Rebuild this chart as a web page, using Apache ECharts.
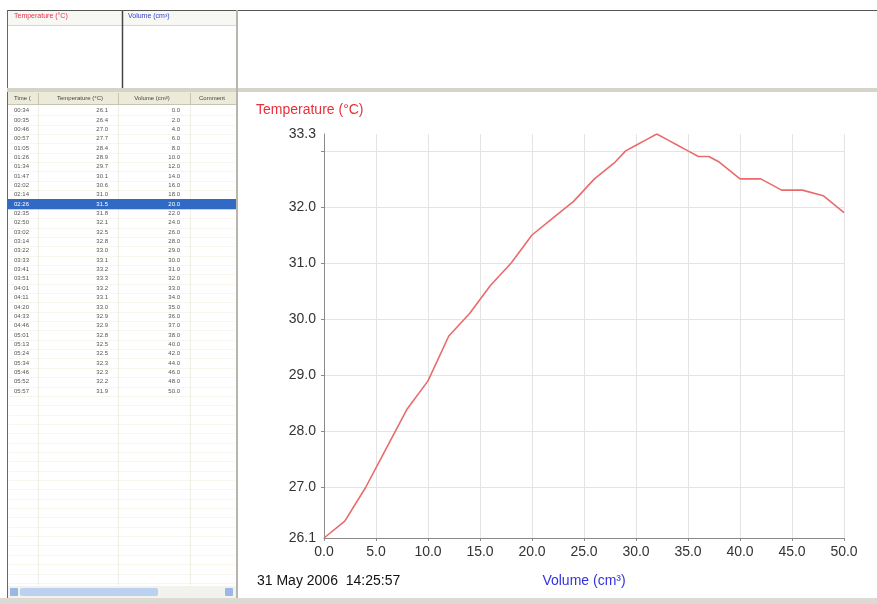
<!DOCTYPE html>
<html>
<head>
<meta charset="utf-8">
<script src="https://cdn.jsdelivr.net/npm/echarts@6/dist/echarts.min.js"></script>
<style>
html,body{margin:0;padding:0;background:#fff;}
#main{width:877px;height:604px;}
</style>
</head>
<body>
<div id="main"></div>
<script>
// ---- data ----
const times = ["00:34","00:35","00:46","00:57","01:05","01:26","01:34","01:47","02:02","02:14","02:26","02:35","02:50","03:02","03:14","03:22","03:33","03:41","03:51","04:01","04:11","04:20","04:33","04:46","05:01","05:13","05:24","05:34","05:46","05:52","05:57"];
const volumes = [0,2,4,6,8,10,12,14,16,18,20,22,24,26,28,29,30,31,32,33,34,35,36,37,38,40,42,44,46,48,50];
const temps = [26.1,26.4,27.0,27.7,28.4,28.9,29.7,30.1,30.6,31.0,31.5,31.8,32.1,32.5,32.8,33.0,33.1,33.2,33.3,33.2,33.1,33.0,32.9,32.9,32.8,32.5,32.5,32.3,32.3,32.2,31.9];
const yLabelValues = [26.1,27,28,29,30,31,32,33.3];
const yGridValues = [27,28,29,30,31,32,33];
const tableHeaders = ["Time (","Temperature (°C)","Volume (cm³)","Comment"];
const highlightRow = 10;

const chart = echarts.init(document.getElementById('main'), null, {renderer:'canvas'});

const FONT = 'Liberation Sans, Arial, sans-serif';
const g = [];
// top frame
g.push({type:'line', shape:{x1:7,y1:10.5,x2:877,y2:10.5}, style:{stroke:'#555',lineWidth:1}});
g.push({type:'line', shape:{x1:7.5,y1:10,x2:7.5,y2:600}, style:{stroke:'#666',lineWidth:1}});
// top-left boxes
g.push({type:'rect', shape:{x:8,y:11,width:229,height:14}, style:{fill:'#f7f7f4'}});
g.push({type:'line', shape:{x1:8,y1:25.5,x2:237,y2:25.5}, style:{stroke:'#d8d8d0',lineWidth:1}});
g.push({type:'line', shape:{x1:122.5,y1:11,x2:122.5,y2:88}, style:{stroke:'#444',lineWidth:1.5}});
g.push({type:'text', left:14, top:13, style:{text:'Temperature (°C)', fill:'#e8304a', font:'7px '+FONT}});
g.push({type:'text', left:128, top:13, style:{text:'Volume (cm³)', fill:'#3344cc', font:'7px '+FONT}});
// gray separator band
g.push({type:'rect', shape:{x:7,y:88,width:870,height:4}, style:{fill:'#d6d3cb'}});
// vertical separator between table and graph
g.push({type:'rect', shape:{x:236,y:10,width:2,height:594}, style:{fill:'#b8b5ad'}});
// table header
g.push({type:'rect', shape:{x:8,y:92,width:228,height:12}, style:{fill:'#ecead8'}});
g.push({type:'line', shape:{x1:8,y1:104.5,x2:236,y2:104.5}, style:{stroke:'#c8c4b4',lineWidth:1}});
const colSep = [38,118,190];
colSep.forEach(x=>{
  g.push({type:'line', shape:{x1:x+0.5,y1:93,x2:x+0.5,y2:104}, style:{stroke:'#c8c4b4',lineWidth:1}});
  g.push({type:'line', shape:{x1:x+0.5,y1:105,x2:x+0.5,y2:585}, style:{stroke:'#f0efe6',lineWidth:1}});
});
g.push({type:'text', left:14, top:95, style:{text:tableHeaders[0], fill:'#444', font:'6px '+FONT}});
g.push({type:'text', x:80, y:95, style:{text:tableHeaders[1], fill:'#444', font:'6px '+FONT, align:'center'}});
g.push({type:'text', x:152, y:95, style:{text:tableHeaders[2], fill:'#444', font:'6px '+FONT, align:'center'}});
g.push({type:'text', x:212, y:95, style:{text:tableHeaders[3], fill:'#444', font:'6px '+FONT, align:'center'}});
// rows
const rowH = 9.35, row0 = 106;
for (let i=0;i<volumes.length;i++){
  const y = row0 + i*rowH;
  if (i===highlightRow){
    g.push({type:'rect', shape:{x:8,y:y-0.5,width:228,height:rowH+1}, style:{fill:'#316ac5'}});
  }
  const col = i===highlightRow ? '#ffffff' : '#555';
  g.push({type:'text', x:14, y:y+1.5, style:{text:times[i], fill:col, font:'6px '+FONT}});
  g.push({type:'text', x:108, y:y+1.5, style:{text:temps[i].toFixed(1), fill:col, font:'6px '+FONT, align:'right'}});
  g.push({type:'text', x:180, y:y+1.5, style:{text:volumes[i].toFixed(1), fill:col, font:'6px '+FONT, align:'right'}});
}
// empty row lines
for (let i=0;i<52;i++){
  const y = row0 + i*rowH + rowH;
  g.push({type:'line', shape:{x1:9,y1:Math.round(y)+0.5,x2:235,y2:Math.round(y)+0.5}, style:{stroke:'#f6f6ee',lineWidth:1}, z:-1});
}
// scrollbar
g.push({type:'rect', shape:{x:8,y:586,width:228,height:12}, style:{fill:'#f3f3ee'}});
g.push({type:'rect', shape:{x:20,y:588,width:138,height:8, r:2}, style:{fill:'#bcd0f2'}});
g.push({type:'rect', shape:{x:10,y:588,width:8,height:8, r:1}, style:{fill:'#9db6e8'}});
g.push({type:'rect', shape:{x:225,y:588,width:8,height:8, r:1}, style:{fill:'#9db6e8'}});
// bottom band
g.push({type:'rect', shape:{x:0,y:598,width:877,height:6}, style:{fill:'#dcdad2'}});
// graph texts
g.push({type:'text', left:256, top:103, style:{text:'Temperature (°C)', fill:'#e8303a', font:'14px '+FONT}});
g.push({type:'text', left:257, top:574, style:{text:'31 May 2006  14:25:57', fill:'#111', font:'14px '+FONT}});
g.push({type:'text', x:584, y:574, style:{text:'Volume (cm³)', fill:'#3333dd', font:'14px '+FONT, align:'center'}});

const option = {
  animation:false,
  backgroundColor:'#ffffff',
  graphic: g,
  grid:{left:324, right:33, top:134, bottom:66, containLabel:false},
  xAxis:{
    type:'value', min:0, max:50, interval:5,
    axisLine:{show:true, lineStyle:{color:'#8a8a8a', width:1}},
    axisTick:{show:true, length:3, lineStyle:{color:'#8a8a8a'}},
    axisLabel:{color:'#333', fontSize:14, fontFamily:FONT, margin:7, formatter:v=>v.toFixed(1)},
    splitLine:{show:true, lineStyle:{color:'#e4e4e4', width:1}}
  },
  yAxis:{
    type:'value', min:26.1, max:33.3,
    axisLine:{show:true, lineStyle:{color:'#8a8a8a', width:1}},
    axisTick:{show:true, length:3, customValues:yGridValues, lineStyle:{color:'#8a8a8a'}},
    axisLabel:{color:'#333', fontSize:14, fontFamily:FONT, margin:8, customValues:yLabelValues, formatter:v=>v.toFixed(1)},
    splitLine:{show:true, lineStyle:{color:'#e4e4e4', width:1}}
  },
  series:[{
    type:'line',
    data: volumes.map((v,i)=>[v,temps[i]]),
    showSymbol:false,
    symbol:'none',
    lineStyle:{color:'#e96b6b', width:1.6},
    z:3
  }]
};
chart.setOption(option);
</script>
</body>
</html>
